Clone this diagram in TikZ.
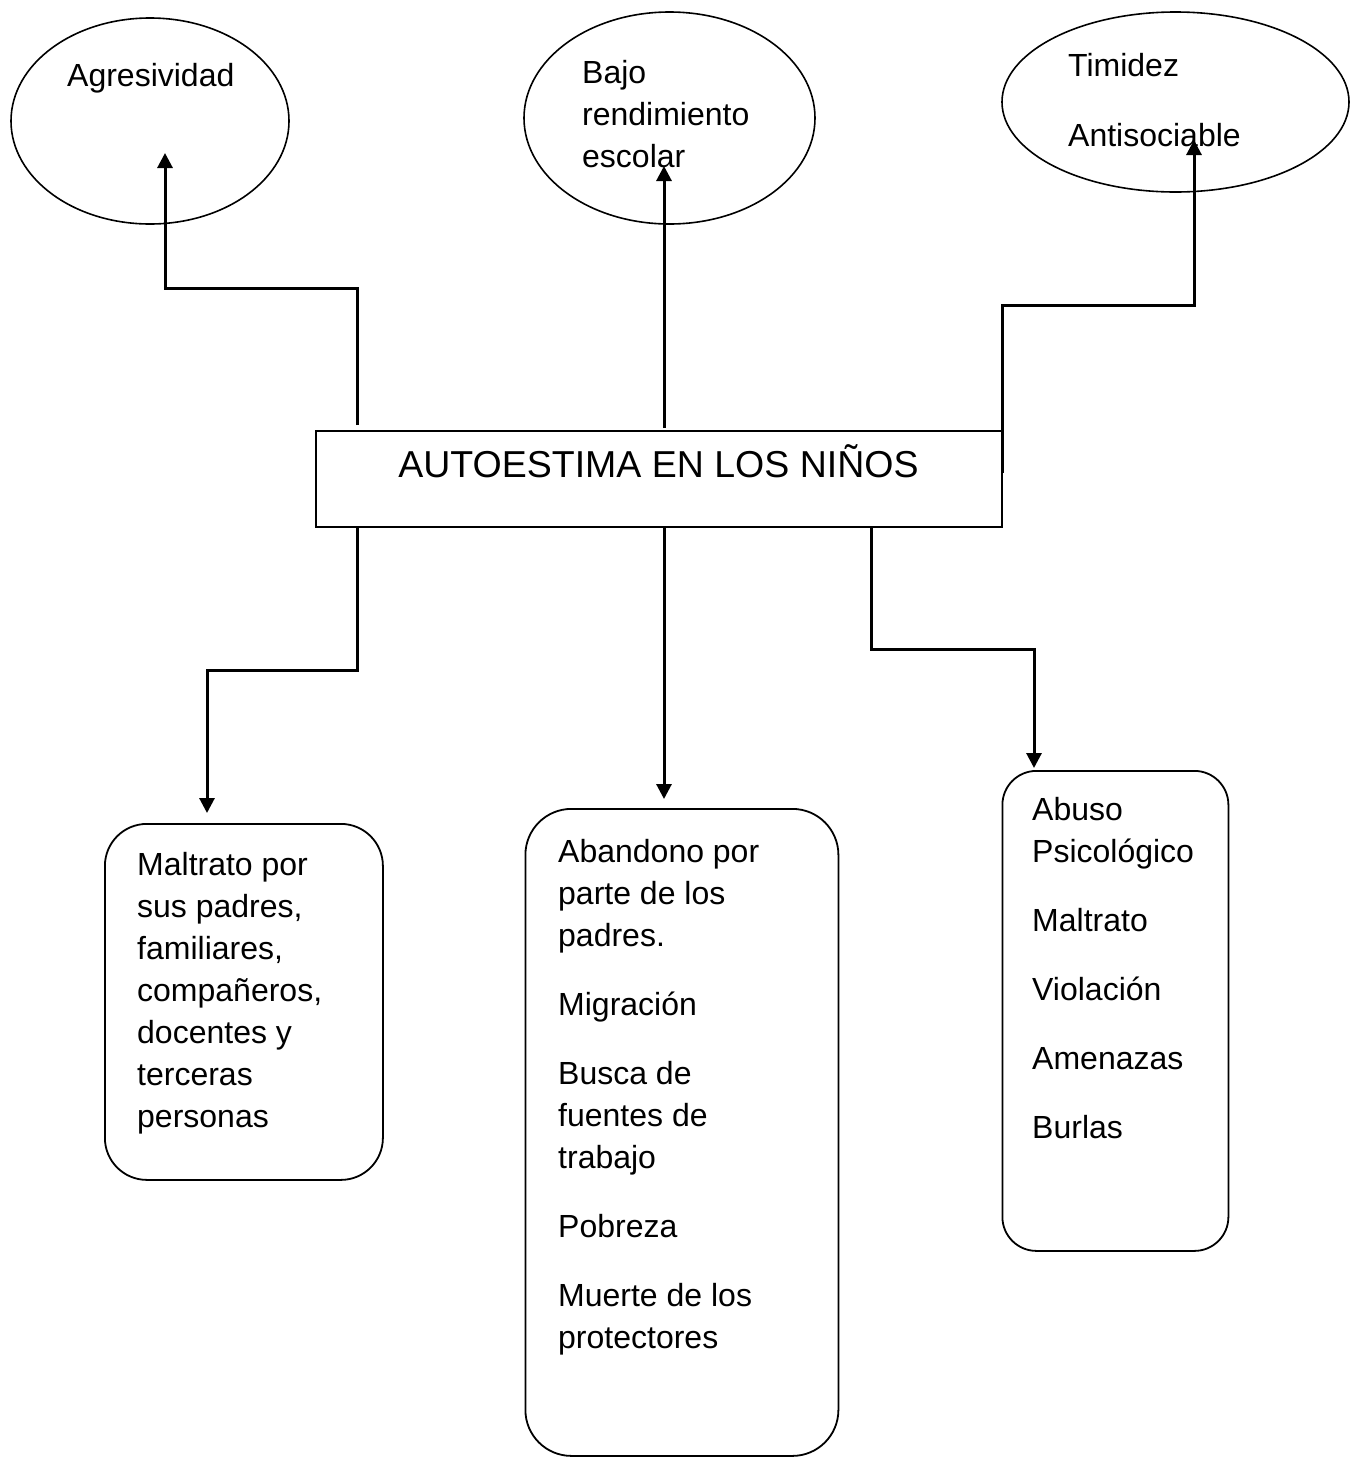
\documentclass[tikz,border=0pt]{standalone}
\usepackage{fontspec}
\setmainfont{Liberation Sans}
\usetikzlibrary{shapes.geometric,arrows.meta}
\tikzset{
  oval/.style={draw, ellipse, line width=1.6pt, inner sep=0pt},
  titlebox/.style={draw, rectangle, line width=1.8pt, inner sep=0pt},
  roundbox/.style={draw, rectangle, line width=1.8pt, inner sep=0pt, anchor=north west},
  lbl/.style={anchor=base west, inner sep=0pt, font=\fontsize{32}{42}\selectfont},
  conn/.style={line width=3pt, -{Triangle[length=15pt,width=15pt]}}
}
\begin{document}
\begin{tikzpicture}[x=1pt,y=-1pt]
\useasboundingbox (0,0) rectangle (1351,1457);
% ellipses
\node[oval, minimum width=278pt, minimum height=206pt] (e1) at (150,121) {};
\node[oval, minimum width=291pt, minimum height=212pt] (e2) at (669.5,118) {};
\node[oval, minimum width=347pt, minimum height=180pt] (e3) at (1175.5,102) {};
% central box
\node[titlebox, minimum width=686pt, minimum height=96pt] (title) at (659,479) {};
\node[anchor=base, inner sep=0pt, font=\fontsize{37.5}{42}\selectfont] (titletext) at (658.5,477) {AUTOESTIMA EN LOS NIÑOS};
% bottom boxes
\node[roundbox, rounded corners=42pt, minimum width=278pt, minimum height=356pt] (b1) at (104,823) {};
\node[roundbox, rounded corners=46pt, minimum width=313pt, minimum height=647pt] (b2) at (524.5,808) {};
\node[roundbox, rounded corners=34pt, minimum width=226pt, minimum height=480pt] (b3) at (1001.5,770) {};
% ellipse texts
\node[lbl] (a1) at (67,86) {Agresividad};
\node[lbl] (a2) at (582,83) {Bajo};
\node[lbl] (a3) at (582,125) {rendimiento};
\node[lbl] (a4) at (582,167) {escolar};
\node[lbl] (a5) at (1068,76) {Timidez};
\node[lbl] (a6) at (1068,146) {Antisociable};
% box 1 texts
\node[lbl] (p1) at (137,875) {Maltrato por};
\node[lbl] (p2) at (137,917) {sus padres,};
\node[lbl] (p3) at (137,959) {familiares,};
\node[lbl] (p4) at (137,1001) {compañeros,};
\node[lbl] (p5) at (137,1043) {docentes y};
\node[lbl] (p6) at (137,1085) {terceras};
\node[lbl] (p7) at (137,1127) {personas};
% box 2 texts
\node[lbl] (q1) at (558,862) {Abandono por};
\node[lbl] (q2) at (558,904) {parte de los};
\node[lbl] (q3) at (558,946) {padres.};
\node[lbl] (q4) at (558,1015) {Migración};
\node[lbl] (q5) at (558,1084) {Busca de};
\node[lbl] (q6) at (558,1126) {fuentes de};
\node[lbl] (q7) at (558,1168) {trabajo};
\node[lbl] (q8) at (558,1237) {Pobreza};
\node[lbl] (q9) at (558,1306) {Muerte de los};
\node[lbl] (q10) at (558,1348) {protectores};
% box 3 texts
\node[lbl] (r1) at (1032,820) {Abuso};
\node[lbl] (r2) at (1032,862) {Psicológico};
\node[lbl] (r3) at (1032,931) {Maltrato};
\node[lbl] (r4) at (1032,1000) {Violación};
\node[lbl] (r5) at (1032,1069) {Amenazas};
\node[lbl] (r6) at (1032,1138) {Burlas};
% connector points
\coordinate (s1) at (357,425);
\coordinate (k1) at (165,288);
\coordinate (t1) at (165,153);
\coordinate (s2) at (664,428);
\coordinate (t2) at (664,166);
\coordinate (s3) at (1002,473);
\coordinate (k3) at (1194,305);
\coordinate (t3) at (1194,140);
\coordinate (s4) at (357,527);
\coordinate (k4) at (207,670);
\coordinate (t4) at (207,813);
\coordinate (s5) at (664,527);
\coordinate (t5) at (664,799);
\coordinate (s6) at (871,527);
\coordinate (k6) at (1034,649);
\coordinate (t6) at (1034,768);
% connectors
\draw[conn] (s1) |- (k1) -- (t1);
\draw[conn] (s2) -- (t2);
\draw[conn] (s3) |- (k3) -- (t3);
\draw[conn] (s4) |- (k4) -- (t4);
\draw[conn] (s5) -- (t5);
\draw[conn] (s6) |- (k6) -- (t6);
\end{tikzpicture}
\end{document}
